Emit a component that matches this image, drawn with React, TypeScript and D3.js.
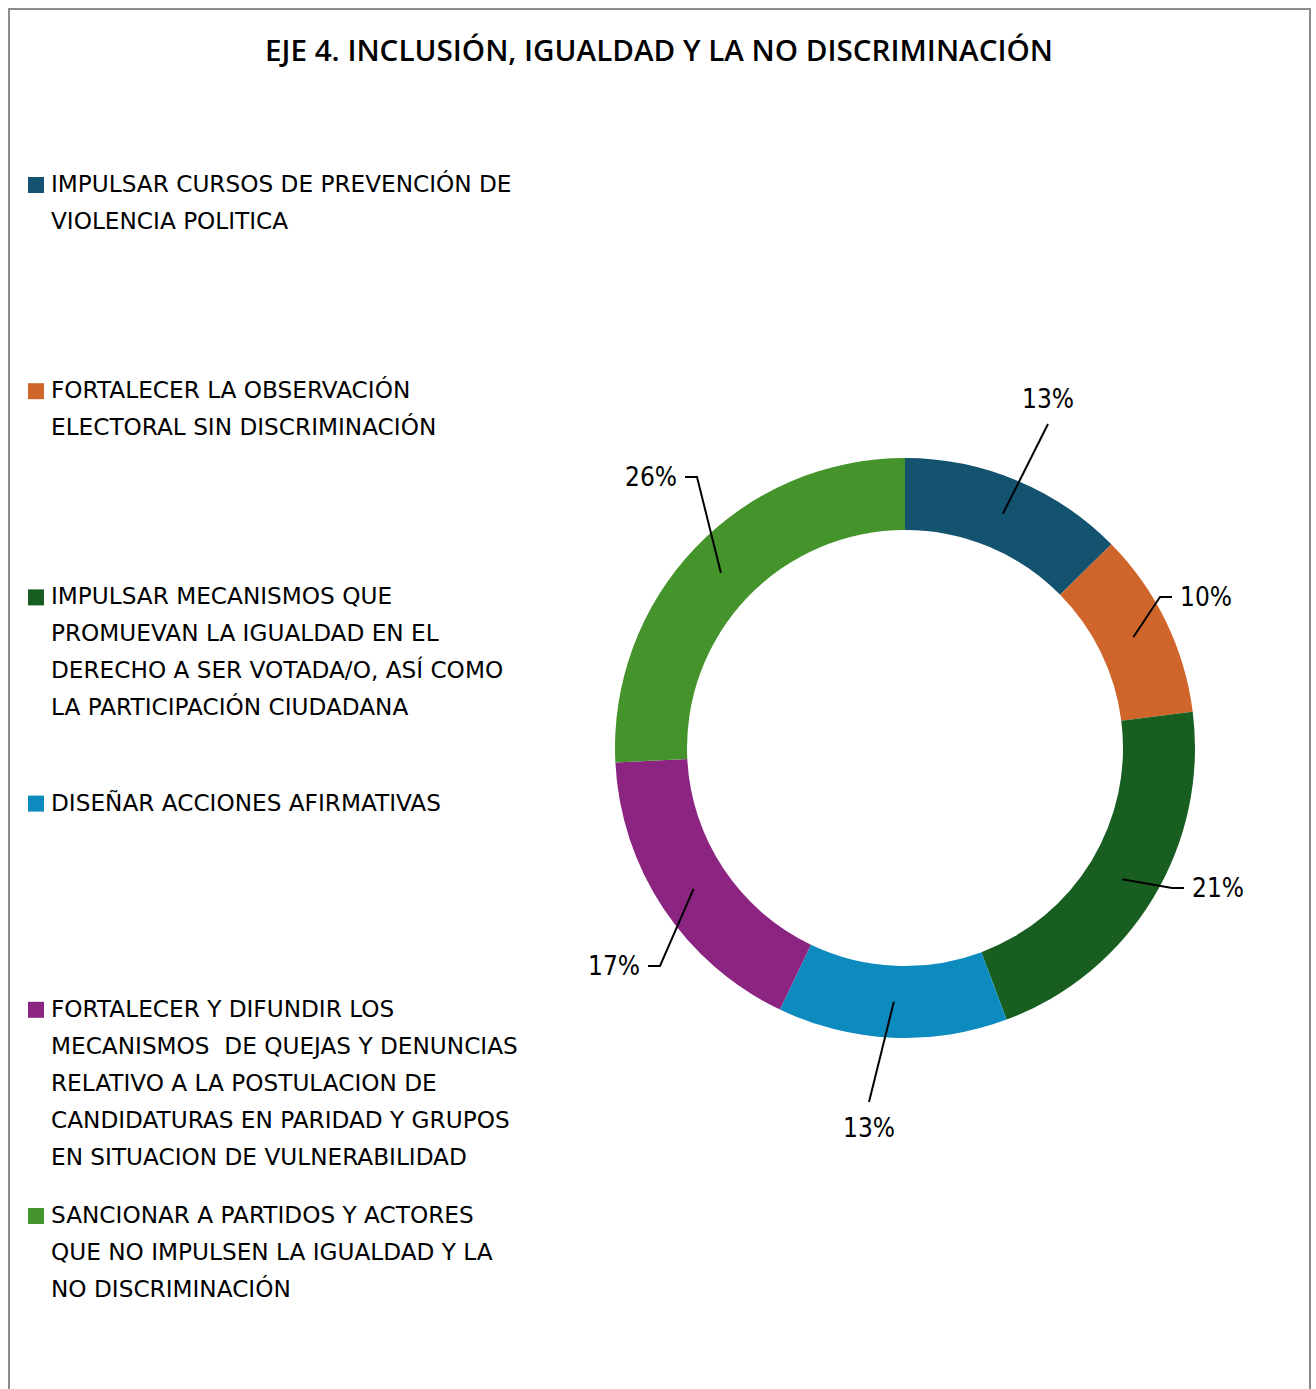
import React from "react";
import * as d3 from "d3";

const title = "EJE 4. INCLUSIÓN, IGUALDAD Y LA NO DISCRIMINACIÓN";

const categoryLines: string[][] = [
  ["IMPULSAR CURSOS DE PREVENCIÓN DE", "VIOLENCIA POLITICA"],
  ["FORTALECER LA OBSERVACIÓN", "ELECTORAL SIN DISCRIMINACIÓN"],
  ["IMPULSAR MECANISMOS QUE", "PROMUEVAN LA IGUALDAD EN EL", "DERECHO A SER VOTADA/O, ASÍ COMO", "LA PARTICIPACIÓN CIUDADANA"],
  ["DISEÑAR ACCIONES AFIRMATIVAS"],
  ["FORTALECER Y DIFUNDIR LOS", "MECANISMOS  DE QUEJAS Y DENUNCIAS", "RELATIVO A LA POSTULACION DE", "CANDIDATURAS EN PARIDAD Y GRUPOS", "EN SITUACION DE VULNERABILIDAD"],
  ["SANCIONAR A PARTIDOS Y ACTORES", "QUE NO IMPULSEN LA IGUALDAD Y LA", "NO DISCRIMINACIÓN"],
];

const values = [12.6, 10.4, 21.3, 12.8, 17.1, 25.8];

const colors = ["#135370", "#D0652C", "#175E20", "#0E8BBE", "#8B2581", "#45932B"];

// label layout: bend point offset from pie center, and side of label
const labelLayout = [
  { dx: 143, dy: -324, side: "top" },
  { dx: 255, dy: -151, side: "right" },
  { dx: 267, dy: 140, side: "right" },
  { dx: -36, dy: 354, side: "bottom" },
  { dx: -245, dy: 218, side: "left" },
  { dx: -208, dy: -271, side: "left" },
];

export default function App() {
  const W = 1316;
  const H = 1389;
  const cx = 905;
  const cy = 748;
  const rOuter = 290;
  const rInner = 218;
  const total = d3.sum(values);
  const pie = d3.pie<number>().sort(null).value((d) => d);
  const arcs = pie(values);
  const arcGen = d3.arc<d3.PieArcDatum<number>>().innerRadius(rInner).outerRadius(rOuter);
  const fmt = d3.format(".0%");

  const legendFont = "'DejaVu Sans', Verdana, sans-serif";
  const labelFont = "'Liberation Sans Narrow', 'DejaVu Sans Condensed', 'Roboto Condensed', sans-serif";

  return (
    <svg
      width={W}
      height={H}
      style={{ position: "absolute", left: 0, top: 0, background: "#fff" }}
    >
      <rect x={0} y={0} width={W} height={H} fill="#fff" />
      <rect x={9} y={9} width={1301} height={1420} fill="none" stroke="#8c8c8c" strokeWidth={2} />
      <text
        x={659}
        y={61}
        textAnchor="middle"
        fontFamily="'Open Sans', sans-serif"
        fontWeight={600}
        fontSize={28}
        fill="#000"
        textLength={788}
        lengthAdjust="spacingAndGlyphs"
      >
        {title}
      </text>

      {categoryLines.map((lines, i) => {
        const y0 = 192 + i * 206.2;
        return (
          <g key={i}>
            <rect x={28} y={y0 - 15} width={16} height={16} fill={colors[i]} />
            {lines.map((ln, j) => (
              <text
                key={j}
                x={51}
                y={y0 + j * 37}
                fontFamily={legendFont}
                fontSize={23.2}
                fill="#000"
                style={{ whiteSpace: "pre" }}
              >
                {ln}
              </text>
            ))}
          </g>
        );
      })}

      <g transform={`translate(${cx},${cy})`}>
        {arcs.map((a, i) => (
          <path key={i} d={arcGen(a) || ""} fill={colors[i]} />
        ))}
        {arcs.map((a, i) => {
          const [sx, sy] = arcGen.centroid(a);
          const L = labelLayout[i];
          const txt = fmt(a.data / total);
          let pathD = `M${sx},${sy}L${L.dx},${L.dy}`;
          let tx = L.dx;
          let ty = L.dy;
          let anchor: "start" | "middle" | "end" = "middle";
          if (L.side === "right") {
            pathD += `l12,0`;
            tx = L.dx + 20;
            ty = L.dy + 9;
            anchor = "start";
          } else if (L.side === "left") {
            pathD += `l-12,0`;
            tx = L.dx - 20;
            ty = L.dy + 9;
            anchor = "end";
          } else if (L.side === "top") {
            ty = L.dy - 16;
            anchor = "middle";
          } else {
            ty = L.dy + 35;
            anchor = "middle";
          }
          return (
            <g key={"l" + i}>
              <path d={pathD} fill="none" stroke="#000" strokeWidth={2} />
              <text
                x={tx}
                y={ty}
                textAnchor={anchor}
                fontFamily={labelFont}
                fontSize={26}
                fill="#000"
              >
                {txt}
              </text>
            </g>
          );
        })}
      </g>
    </svg>
  );
}
